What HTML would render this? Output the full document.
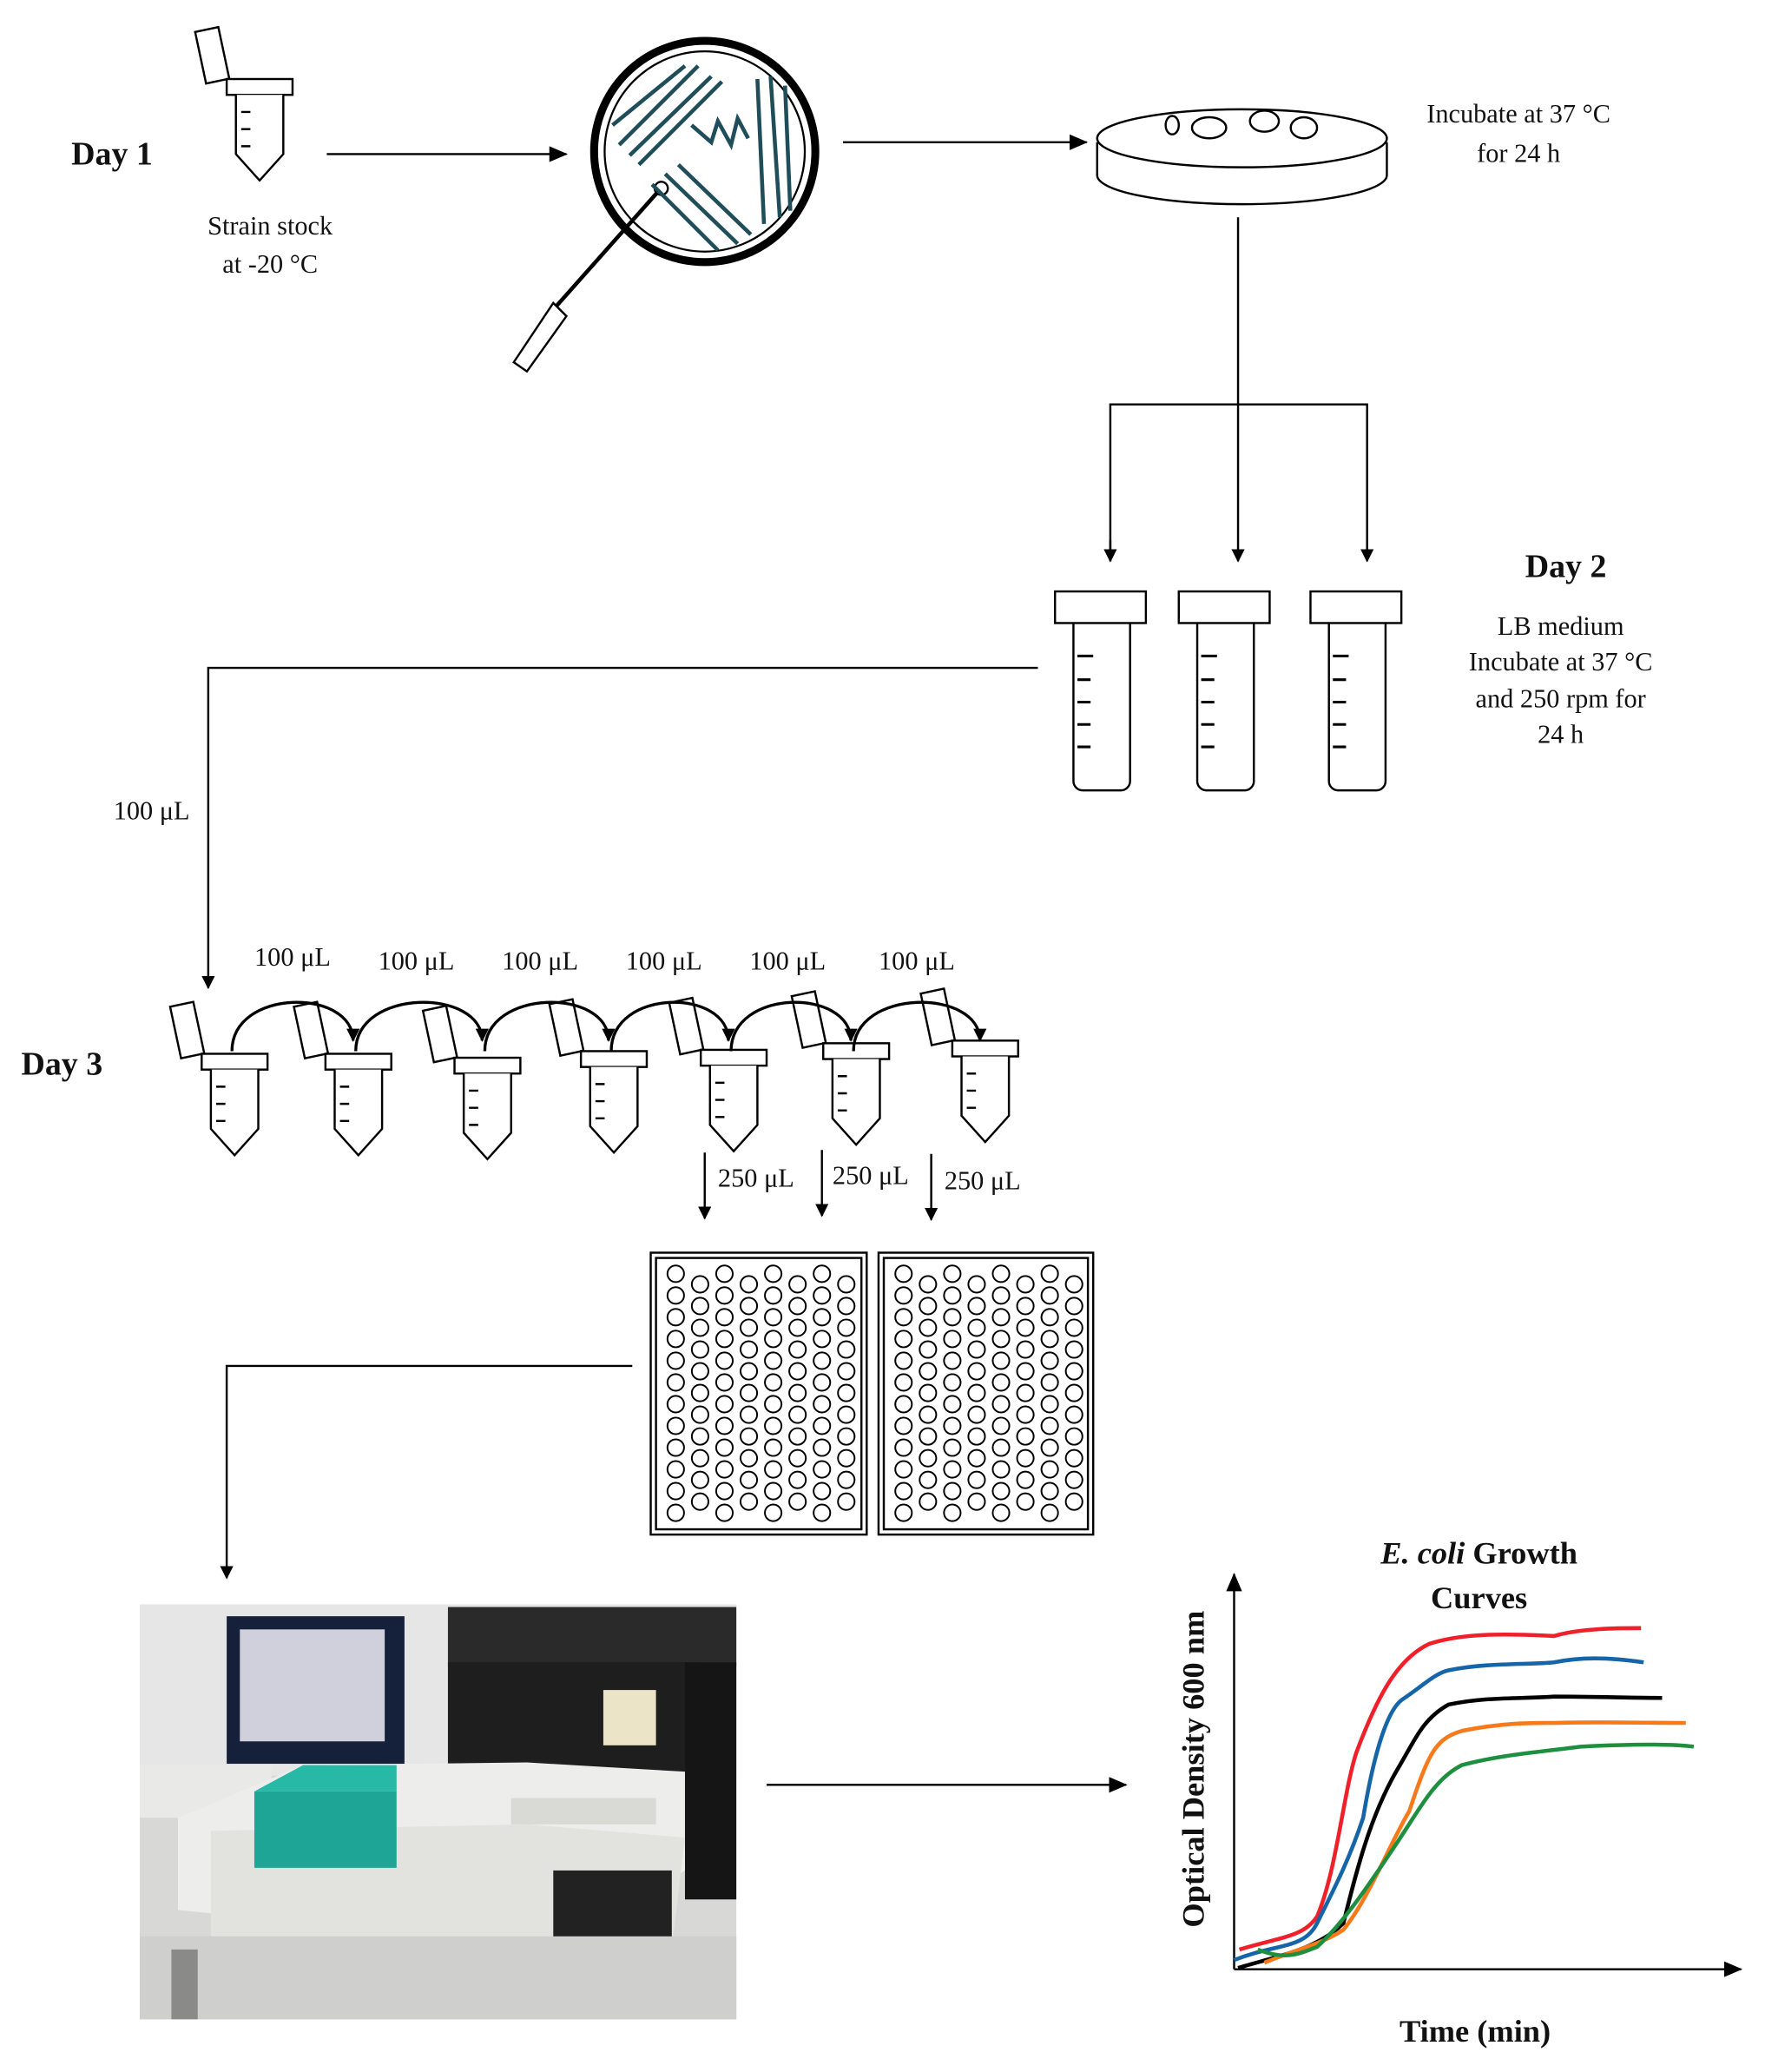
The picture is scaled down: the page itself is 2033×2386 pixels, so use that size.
<!DOCTYPE html>
<html><head><meta charset="utf-8"><style>
html,body{margin:0;padding:0;background:#fff}
svg{display:block}
text{font-family:"Liberation Serif",serif;fill:#111}
</style></head><body>
<svg id="s" width="2033" height="2386" viewBox="0 0 1340 1573" xmlns="http://www.w3.org/2000/svg">
<defs>
<marker id="ar" markerWidth="10" markerHeight="10" refX="9" refY="5" orient="auto" markerUnits="userSpaceOnUse"><path d="M0,0 L10,5 L0,10 z" fill="#000"/></marker>
<marker id="as" markerWidth="14" markerHeight="12" refX="13" refY="6" orient="auto" markerUnits="userSpaceOnUse"><path d="M0,0 L14,6 L0,12 z" fill="#000"/></marker>
</defs>
<g stroke="#000" stroke-width="1.6" fill="none">
<line x1="248" y1="117" x2="430" y2="117" marker-end="url(#as)"/>
<line x1="640" y1="108" x2="825" y2="108" marker-end="url(#as)"/>
<line x1="940" y1="165" x2="940" y2="426" marker-end="url(#ar)"/>
<polyline points="843,426 843,307 1038,307 1038,426" marker-end="url(#ar)"/>
<line x1="843" y1="410" x2="843" y2="426" marker-end="url(#ar)"/>
<polyline points="788,507 158,507 158,750" marker-end="url(#ar)"/>
<line x1="535" y1="875" x2="535" y2="925" marker-end="url(#ar)"/>
<line x1="624" y1="873" x2="624" y2="923" marker-end="url(#ar)"/>
<line x1="707" y1="876" x2="707" y2="926" marker-end="url(#ar)"/>
<polyline points="480,1037 172,1037 172,1198" marker-end="url(#ar)"/>
<line x1="582" y1="1355" x2="855" y2="1355" marker-end="url(#as)"/>
<circle cx="535" cy="115" r="84" stroke-width="6"/>
<circle cx="535" cy="115" r="76" stroke-width="1.5"/>
<line x1="500" y1="145" x2="420" y2="235" stroke-width="3"/>
<polygon points="420,230 430,240 400,282 390,275" fill="#fff"/>
<circle cx="502" cy="143" r="5" fill="#fff"/>
<g stroke="#1f4e5a" stroke-width="3">
<line x1="470" y1="110" x2="530" y2="50"/><line x1="478" y1="118" x2="540" y2="58"/><line x1="485" y1="125" x2="548" y2="62"/><line x1="465" y1="95" x2="520" y2="50"/>
<line x1="575" y1="60" x2="580" y2="170"/><line x1="585" y1="58" x2="592" y2="165"/><line x1="596" y1="65" x2="600" y2="160"/>
<line x1="495" y1="140" x2="545" y2="190"/><line x1="505" y1="132" x2="560" y2="185"/><line x1="515" y1="125" x2="570" y2="178"/>
<polyline points="525,95 540,108 545,92 555,110 560,90 568,105"/>
</g>
<path d="M833,108 v25 a110,22 0 0 0 220,0 v-25" fill="#fff"/>
<ellipse cx="943" cy="105" rx="110" ry="22" fill="#fff"/>
<ellipse cx="918" cy="97" rx="13" ry="8"/><ellipse cx="960" cy="92" rx="11" ry="8"/><ellipse cx="990" cy="97" rx="10" ry="8"/><ellipse cx="890" cy="95" rx="5" ry="7"/>
<g id="bt">
<rect x="801" y="449" width="69" height="24"/>
<path d="M815,473 v120 a7,7 0 0 0 7,7 h29 a7,7 0 0 0 7,-7 v-120"/>
<path d="M818,498 h12 M818,516 h10 M818,533 h10 M818,550 h10 M818,567 h10" stroke-width="2"/>
</g>
<use href="#bt" x="94"/><use href="#bt" x="194"/>
<rect x="494" y="951" width="164" height="214"/><rect x="498" y="955" width="156" height="206"/>
<rect x="667" y="951" width="163" height="214"/><rect x="671" y="955" width="155" height="206"/>
<g id="wells" stroke-width="1.3"></g>
<line x1="937" y1="1495" x2="937" y2="1195" marker-end="url(#as)"/>
<line x1="937" y1="1495" x2="1322" y2="1495" marker-end="url(#as)"/>
<g stroke-width="3">
<path stroke="#f0202a" d="M941,1480 C975,1470 990,1470 1000,1455 C1015,1420 1020,1360 1030,1330 C1045,1290 1060,1260 1085,1248 C1110,1240 1140,1240 1180,1242 C1200,1236 1230,1236 1246,1236"/>
<path stroke="#1565a8" d="M937,1488 C970,1475 990,1480 1000,1460 C1015,1430 1025,1410 1035,1380 C1040,1350 1050,1300 1065,1290 C1080,1280 1090,1270 1100,1268 C1130,1262 1160,1264 1180,1262 C1200,1258 1220,1258 1248,1262"/>
<path stroke="#000" d="M940,1494 C970,1485 1000,1480 1020,1460 C1030,1420 1040,1380 1060,1345 C1075,1320 1080,1305 1100,1294 C1130,1288 1150,1290 1180,1288 C1210,1288 1240,1289 1262,1289"/>
<path stroke="#f77a1a" d="M960,1490 C990,1478 1005,1475 1020,1465 C1040,1440 1055,1400 1070,1375 C1085,1330 1090,1320 1110,1314 C1140,1308 1160,1308 1180,1308 C1210,1307 1250,1308 1280,1308"/>
<path stroke="#1e8f3e" d="M955,1480 C975,1488 985,1484 1000,1478 C1020,1460 1040,1430 1060,1400 C1080,1370 1090,1350 1110,1340 C1140,1332 1170,1330 1200,1326 C1240,1324 1270,1324 1286,1326"/>
</g>
</g>
<g id="mt" stroke="#000" stroke-width="1.6" fill="#fff"></g>
<g>
<rect x="106" y="1218" width="453" height="315" fill="#d8d8d6"/>
<rect x="106" y="1218" width="453" height="130" fill="#e6e6e6"/>
<rect x="172" y="1227" width="135" height="112" fill="#15203a"/>
<rect x="182" y="1237" width="110" height="85" fill="#d0d0dd"/>
<rect x="340" y="1220" width="219" height="45" fill="#2a2a2a"/>
<rect x="340" y="1262" width="195" height="140" fill="#1e1e1e"/>
<rect x="520" y="1262" width="39" height="180" fill="#151515"/>
<rect x="458" y="1283" width="40" height="42" fill="#ece4c6"/>
<rect x="106" y="1340" width="100" height="40" fill="#e9e9e8"/>
<polygon points="135,1380 230,1340 400,1338 520,1345 520,1420 430,1480 135,1450" fill="#ededeb"/>
<polygon points="160,1390 400,1385 520,1395 510,1480 420,1505 160,1470" fill="#e2e2df"/>
<rect x="420" y="1420" width="90" height="70" fill="#222"/>
<rect x="193" y="1360" width="108" height="58" fill="#1ea596"/>
<polygon points="193,1360 230,1340 301,1340 301,1360" fill="#27b8a6"/>
<rect x="388" y="1365" width="110" height="20" fill="#d9d9d6"/>
<rect x="106" y="1470" width="453" height="63" fill="#cfcfcd"/>
<rect x="130" y="1480" width="20" height="53" fill="#8a8a88"/>
</g>
<g font-size="25" font-weight="bold">
<text x="54" y="125">Day 1</text>
<text x="1158" y="438">Day 2</text>
<text x="16" y="816">Day 3</text>
</g>
<g font-size="20" text-anchor="middle">
<text x="205" y="178">Strain stock</text><text x="205" y="207">at -20 °C</text>
<text x="1153" y="93">Incubate at 37 °C</text><text x="1153" y="123">for 24 h</text>
<text x="1185" y="482">LB medium</text><text x="1185" y="509">Incubate at 37 °C</text><text x="1185" y="537">and 250 rpm for</text><text x="1185" y="564">24 h</text>
<text x="115" y="622">100 μL</text>
<text x="222" y="733">100 μL</text><text x="316" y="736">100 μL</text><text x="410" y="736">100 μL</text><text x="504" y="736">100 μL</text><text x="598" y="736">100 μL</text><text x="696" y="736">100 μL</text>
<text x="574" y="901">250 μL</text><text x="661" y="899">250 μL</text><text x="746" y="903">250 μL</text>
</g>
<g font-size="24" font-weight="bold" text-anchor="middle">
<text x="1123" y="1187"><tspan font-style="italic">E. coli</tspan> Growth</text>
<text x="1123" y="1221">Curves</text>
<text x="1120" y="1550">Time (min)</text>
<text transform="translate(914,1343) rotate(-90)">Optical Density  600 nm</text>
</g>
</svg>
<script>
var ns="http://www.w3.org/2000/svg";
function el(p,t,a){var e=document.createElementNS(ns,t);for(var k in a)e.setAttribute(k,a[k]);p.appendChild(e);return e;}
var w=document.getElementById("wells");
[[498,955],[671,955]].forEach(function(o){
 for(var r=0;r<12;r++)for(var c=0;c<8;c++){
  var x=o[0]+15+c*18.5, y=o[1]+12+r*16.5+(c%2?8:0);
  if(y>o[1]+198)continue;
  el(w,"circle",{cx:x,cy:y,r:6.3,fill:"#fff"});
 }
});
var m=document.getElementById("mt");
var tubes=[[197,60],[178,800],[272,800],[370,803],[466,798],[557,797],[650,792],[748,790]];
tubes.forEach(function(t,i){
 var cx=t[0],y=t[1];
 var g=el(m,"g",{});
 el(g,"rect",{x:cx-45,y:y-38,width:18,height:40,transform:"rotate(-12 "+(cx-36)+" "+(y-18)+")"});
 el(g,"rect",{x:cx-25,y:y,width:50,height:12});
 el(g,"path",{d:"M"+(cx-18)+","+(y+12)+" v45 l18,20 l18,-20 v-45"});
 el(g,"path",{d:"M"+(cx-14)+","+(y+25)+" h7 M"+(cx-14)+","+(y+38)+" h7 M"+(cx-14)+","+(y+51)+" h7",fill:"none"});
});
for(var i=0;i<6;i++){
 var a=tubes[i+1][0],b=tubes[i+2][0];
 el(m,"path",{d:"M"+(a-2)+",798 C"+(a-2)+",750 "+(b-4)+",750 "+(b-4)+",790",fill:"none","stroke-width":"2.2","marker-end":"url(#ar)"});
}
</script>
</body></html>
